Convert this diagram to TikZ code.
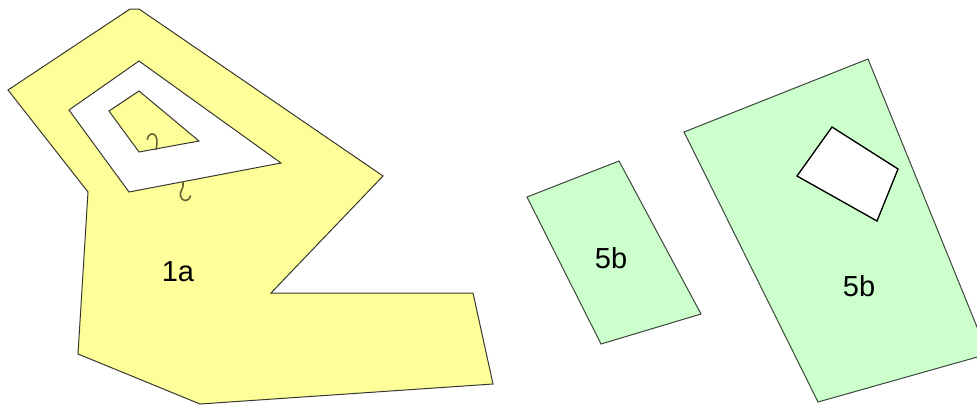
\documentclass[tikz,border=0pt]{standalone}
\usepackage{fontspec}
\setmainfont{Liberation Sans}
\begin{document}
\begin{tikzpicture}[x=1pt,y=-1pt,
  yellowarea/.style={fill={rgb,255:red,255;green,255;blue,153},draw={rgb,255:red,55;green,55;blue,50},line width=1pt,even odd rule,line join=miter},
  greenarea/.style={fill={rgb,255:red,204;green,255;blue,204},draw={rgb,255:red,60;green,70;blue,60},line width=1pt,even odd rule},
  holeedge/.style={draw=black,line width=1.2pt},
  linkmark/.style={draw={rgb,255:red,100;green,100;blue,55},line width=1.6pt,line cap=round},
  arealabel/.style={font=\fontsize{29}{32}\selectfont,text=black,inner sep=0pt}]
\useasboundingbox (0,0) rectangle (977,405);
% yellow area 1a with hole and island
\path[yellowarea]
  (130,9) -- (139,9) -- (383,176) -- (271,293) -- (473,293) -- (493,384) -- (200,404) -- (78,354) -- (88,192) -- (8,90) -- cycle
  (139,61) -- (281,163) -- (129,192) -- (69,110) -- cycle
  (139,91) -- (199,141) -- (139,152) -- (109,111) -- cycle;
% link marks
\draw[linkmark] (156,149.5) .. controls (157,145) and (157.5,140) .. (156,136.5)
  .. controls (154.5,133) and (149,132) .. (147.3,139.3);
\draw[linkmark] (183,181.5) -- (183,186) .. controls (183,189) and (179.5,192) .. (180.5,196)
  .. controls (181.5,201) and (188,203) .. (190.5,196);
% small green area
\path[greenarea] (527,197) -- (619,161) -- (701,314) -- (601,344) -- cycle;
% large green area with hole
\begin{scope}
\clip (0,0) rectangle (977,405);
\path[greenarea] (684,132) -- (868,59) -- (988,354) -- (818,402) -- cycle
  (832,127) -- (898,169) -- (877,221) -- (797,176) -- cycle;
\draw[holeedge] (832,127) -- (898,169) -- (877,221) -- (797,176) -- cycle;
\end{scope}
% labels
\node[arealabel] (la) at (178,272) {1a};
\node[arealabel] (lb) at (611,258) {5b};
\node[arealabel] (lc) at (859,286) {5b};
\end{tikzpicture}
\end{document}
